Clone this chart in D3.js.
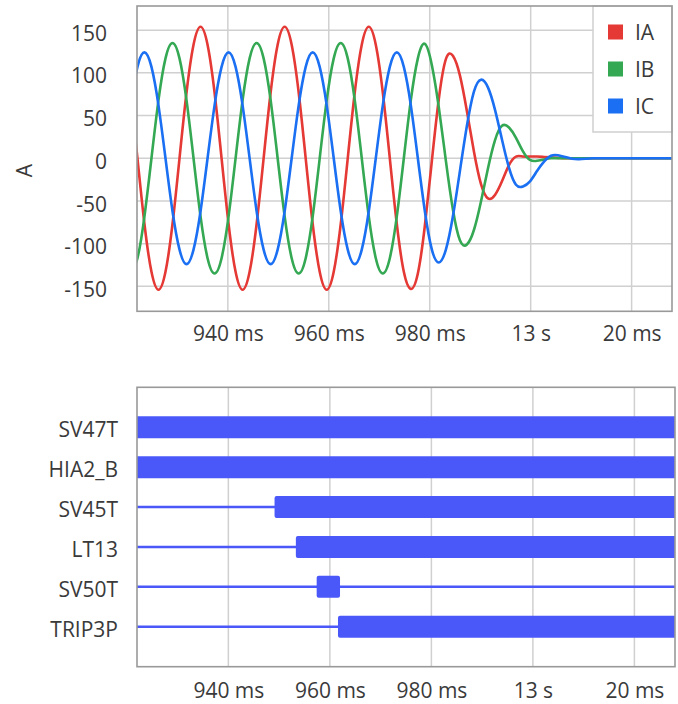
<!DOCTYPE html>
<html>
<head>
<meta charset="utf-8">
<script src="https://cdn.jsdelivr.net/npm/d3@7"></script>
<style>
body { margin: 0; background: #fff; }
text { font-family: "Open Sans", sans-serif; fill: #3a3a3a; }
</style>
</head>
<body>
<div id="chart-area"></div>
<script>
// analog channels, 12 samples per 60 Hz cycle (values in A)
const sampleStart = 12920.7;       // ms
const sampleStep = 1000 / 720;     // ms
const currentA = [77, 0, -77, -133, -154, -133, -77, 0, 77, 133, 154, 133,
    77, 0, -77, -133, -154, -133, -77, 0, 77, 133, 154, 133,
    77, 0, -77, -133, -154, -133, -77, 0, 77, 133, 154, 133,
    77, 0, -77, -133, -153, -135, -79, -3, 70, 116, 120, 97,
    55, 8, -30, -47, -43, -27, -8, 2, 2, 2, 2, 1.5,
    1, 0.5, 0, 0, 0, 0, 0, 0, 0, 0, 0, 0, 0, 0, 0, 0, 0, 0, 0];
const currentB = [-135, -117, -68, 0, 68, 117, 135, 117, 68, 0, -68, -117,
    -135, -117, -68, 0, 68, 117, 135, 117, 68, 0, -68, -117,
    -135, -117, -68, 0, 68, 117, 135, 117, 68, 0, -68, -117,
    -135, -117, -68, 0, 68, 117, 134, 109, 59, -3, -60, -96,
    -101, -84, -51, -12, 21, 38, 36, 24, 8, -2, -3, -1.5,
    0, 0, 0, 0, 0, 0, 0, 0, 0, 0, 0, 0, 0, 0, 0, 0, 0, 0, 0];
const currentC = [62, 107, 124, 107, 62, 0, -62, -107, -124, -107, -62, 0,
    62, 107, 124, 107, 62, 0, -62, -107, -124, -107, -62, 0,
    62, 107, 124, 107, 62, 0, -62, -107, -124, -107, -62, 0,
    62, 107, 124, 107, 62, 0, -62, -107, -122, -107, -68, -15,
    38, 78, 92, 83, 57, 22, -11, -31, -33, -27, -15, -4,
    3, 3.5, 1.5, -0.5, -1, -0.5, 0, 0, 0, 0, 0, 0, 0, 0, 0, 0, 0, 0, 0];
const seriesNames = ["IA", "IB", "IC"];
const seriesColors = ["#e53935", "#34a853", "#1a6ff2"];
const currentTicks = [-150, -100, -50, 0, 50, 100, 150];
const timeTicks = [12940, 12960, 12980, 13000, 13020];
const timeDomain = [12922, 13028];

// digital channels: time the bit goes high / low (ms)
const digitalNames = ["SV47T", "HIA2_B", "SV45T", "LT13", "SV50T", "TRIP3P"];
const digitalRise = [12915, 12915, 12949.1, 12953.3, 12957.4, 12961.6];
const digitalFall = [13035, 13035, 13035, 13035, 12962.0, 13035];

const W = 678, H = 704;
const fontSize = 21;

function fmtTime(ms) {
    return ms % 1000 === 0 ? (ms / 1000) + " s" : (ms % 1000) + " ms";
}

const svg = d3.select("#chart-area")
    .append("svg")
    .attr("width", W)
    .attr("height", H);

// ---------- analog chart ----------
const p1 = { left: 137, right: 672, top: 6, bottom: 311.3 };

const x1 = d3.scaleLinear().domain(timeDomain).range([p1.left, p1.right]);
const y1 = d3.scaleLinear().domain([-179.2, 178.3]).range([p1.bottom, p1.top]);

svg.append("defs").append("clipPath").attr("id", "clip1")
    .append("rect")
    .attr("x", p1.left).attr("y", p1.top)
    .attr("width", p1.right - p1.left).attr("height", p1.bottom - p1.top);

svg.select("defs").append("clipPath").attr("id", "clip2")
    .append("rect")
    .attr("x", 137).attr("y", 387.3)
    .attr("width", 675 - 137).attr("height", 666.7 - 387.3);

const grid1 = svg.append("g").attr("stroke", "#d0d0d0").attr("stroke-width", 1.5);
grid1.selectAll(".vx").data(timeTicks).enter().append("line")
    .attr("x1", d => x1(d)).attr("x2", d => x1(d))
    .attr("y1", p1.top).attr("y2", p1.bottom);
grid1.selectAll(".hy").data(currentTicks).enter().append("line")
    .attr("y1", d => y1(d)).attr("y2", d => y1(d))
    .attr("x1", p1.left).attr("x2", p1.right);

// plain hyphen for negatives, like the original
const yAxis1 = d3.axisLeft(y1).tickValues(currentTicks).tickFormat(d => String(d))
    .tickSize(0).tickPadding(30);
svg.append("g")
    .attr("transform", "translate(" + p1.left + ",0)")
    .call(yAxis1)
    .call(g => g.select(".domain").remove())
    .selectAll("text")
    .attr("dy", "0.48em")
    .attr("font-size", fontSize)
    .attr("font-family", "Open Sans");

const xAxis1 = d3.axisBottom(x1).tickValues(timeTicks).tickFormat(fmtTime).tickSize(0).tickPadding(15);
svg.append("g")
    .attr("transform", "translate(0," + p1.bottom + ")")
    .call(xAxis1)
    .call(g => g.select(".domain").remove())
    .selectAll("text")
    .attr("font-size", fontSize)
    .attr("font-family", "Open Sans");

svg.append("text")
    .attr("transform", "translate(31.5,170.5) rotate(-90)")
    .attr("text-anchor", "middle")
    .attr("font-size", fontSize)
    .text("A");

const sampleTimes = currentA.map((d, i) => sampleStart + i * sampleStep);
const line = d3.line()
    .x((d, i) => x1(sampleTimes[i]))
    .y(d => y1(d))
    .curve(d3.curveNatural);

const waves = svg.append("g").attr("clip-path", "url(#clip1)");
[currentA, currentB, currentC].forEach(function(values, i) {
    waves.append("path")
        .attr("d", line(values))
        .attr("fill", "none")
        .attr("stroke", seriesColors[i])
        .attr("stroke-width", 2.6)
        .attr("stroke-linejoin", "round");
});

// legend
const legend = svg.append("g");
legend.append("rect")
    .attr("x", 593).attr("y", p1.top)
    .attr("width", p1.right - 593).attr("height", 126)
    .attr("fill", "#fff")
    .attr("stroke", "#cfcfcf")
    .attr("stroke-width", 1.5);
seriesNames.forEach(function(name, i) {
    const cy = 32 + i * 37;
    legend.append("rect")
        .attr("x", 608).attr("y", cy - 7.5)
        .attr("width", 15).attr("height", 15)
        .attr("fill", seriesColors[i]);
    legend.append("text")
        .attr("x", 635).attr("y", cy)
        .attr("dy", "0.36em")
        .attr("font-size", fontSize)
        .text(name);
});

svg.append("rect")
    .attr("x", p1.left).attr("y", p1.top)
    .attr("width", p1.right - p1.left).attr("height", p1.bottom - p1.top)
    .attr("fill", "none")
    .attr("stroke", "#999")
    .attr("stroke-width", 1.6);

// ---------- digital chart ----------
const p2 = { left: 137, right: 675, top: 387.3, bottom: 666.7 };
const x2 = d3.scaleLinear().domain(timeDomain).range([p2.left, p2.right]);
const yRow = d3.scalePoint().domain(digitalNames).range([p2.top, p2.bottom]).padding(1);

svg.append("g").attr("stroke", "#d0d0d0").attr("stroke-width", 1.5)
    .selectAll("line").data(timeTicks).enter().append("line")
    .attr("x1", d => x2(d)).attr("x2", d => x2(d))
    .attr("y1", p2.top).attr("y2", p2.bottom);

const barColor = "#4a58fa";
const bits = svg.append("g").attr("clip-path", "url(#clip2)");
bits.selectAll(".low").data(digitalNames).enter().append("line")
    .attr("x1", p2.left).attr("x2", p2.right)
    .attr("y1", d => yRow(d)).attr("y2", d => yRow(d))
    .attr("stroke", barColor)
    .attr("stroke-width", 2.5);
bits.selectAll(".high").data(digitalNames).enter().append("rect")
    .attr("x", (d, i) => x2(digitalRise[i]))
    .attr("width", (d, i) => x2(digitalFall[i]) - x2(digitalRise[i]))
    .attr("y", d => yRow(d) - 11)
    .attr("height", 22)
    .attr("rx", 2)
    .attr("fill", barColor);

svg.append("g")
    .attr("transform", "translate(" + p2.left + ",0)")
    .call(d3.axisLeft(yRow).tickSize(0).tickPadding(19))
    .call(g => g.select(".domain").remove())
    .selectAll("text")
    .attr("dy", "0.46em")
    .attr("font-size", fontSize)
    .attr("font-family", "Open Sans");

svg.append("g")
    .attr("transform", "translate(0," + p2.bottom + ")")
    .call(d3.axisBottom(x2).tickValues(timeTicks).tickFormat(fmtTime).tickSize(0).tickPadding(16))
    .call(g => g.select(".domain").remove())
    .selectAll("text")
    .attr("font-size", fontSize)
    .attr("font-family", "Open Sans");

svg.append("rect")
    .attr("x", p2.left).attr("y", p2.top)
    .attr("width", p2.right - p2.left).attr("height", p2.bottom - p2.top)
    .attr("fill", "none")
    .attr("stroke", "#999")
    .attr("stroke-width", 1.6);
</script>
</body>
</html>
